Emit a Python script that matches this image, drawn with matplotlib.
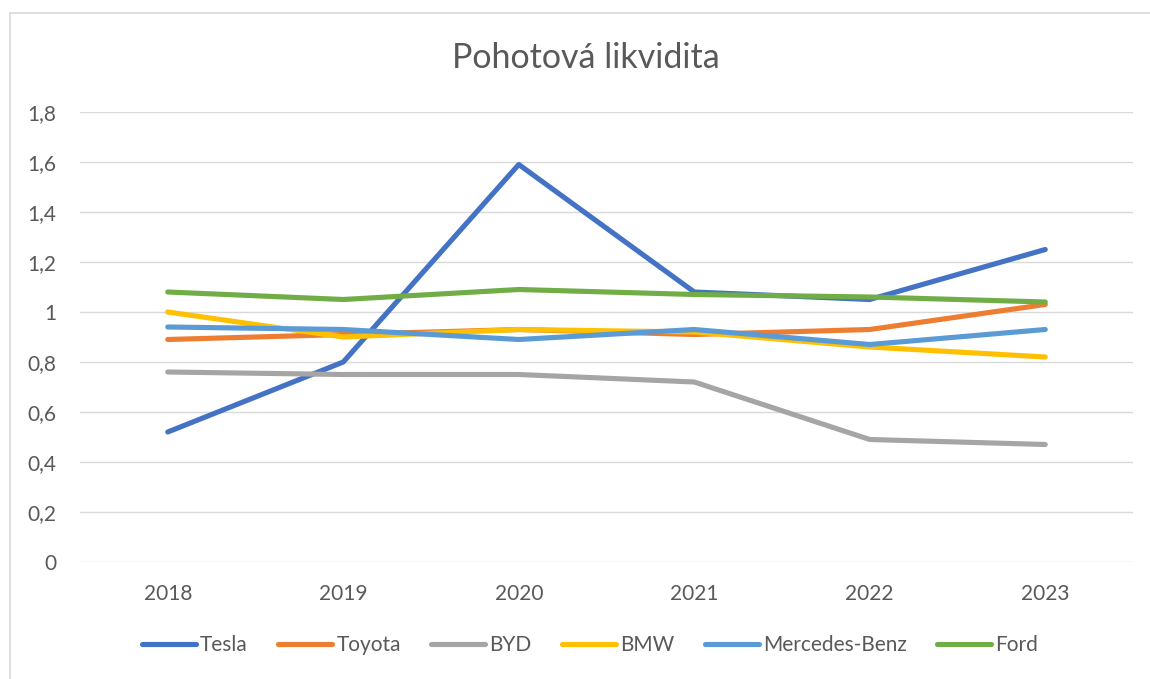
import matplotlib.pyplot as plt
from matplotlib.lines import Line2D
from matplotlib.ticker import FuncFormatter

plt.rcParams['font.family'] = ['Lato', 'DejaVu Sans']

years = ['2018', '2019', '2020', '2021', '2022', '2023']
companies = ['Tesla', 'Toyota', 'BYD', 'BMW', 'Mercedes-Benz', 'Ford']
tesla = [0.52, 0.80, 1.59, 1.08, 1.05, 1.25]
toyota = [0.89, 0.91, 0.93, 0.91, 0.93, 1.03]
byd = [0.76, 0.75, 0.75, 0.72, 0.49, 0.47]
bmw = [1.00, 0.90, 0.93, 0.92, 0.86, 0.82]
mercedes = [0.94, 0.93, 0.89, 0.93, 0.87, 0.93]
ford = [1.08, 1.05, 1.09, 1.07, 1.06, 1.04]
colors = ['#4472C4', '#ED7D31', '#A5A5A5', '#FFC000', '#5B9BD5', '#70AD47']
y_ticks = [0, 0.2, 0.4, 0.6, 0.8, 1.0, 1.2, 1.4, 1.6, 1.8]

W, H = 1150, 679
text_color = '#595959'
grid_color = '#D9D9D9'

fig = plt.figure(figsize=(W / 100, H / 100), dpi=100)
ax = fig.add_axes([80 / W, 1 - 562 / H, 1053 / W, 450 / H])

x = list(range(len(years)))
for name, vals, c in zip(companies, [tesla, toyota, byd, bmw, mercedes, ford], colors):
    ax.plot(x, vals, color=c, lw=3.7, label=name,
            solid_capstyle='round', solid_joinstyle='round', zorder=3)

ax.set_xlim(-0.5, len(years) - 0.5)
ax.set_ylim(0, 1.8)
ax.set_xticks(x)
ax.set_xticklabels(years)
ax.set_yticks(y_ticks)
ax.yaxis.set_major_formatter(FuncFormatter(lambda v, p: f'{v:g}'.replace('.', ',')))
ax.tick_params(axis='both', length=0, labelsize=15, labelcolor=text_color)
ax.tick_params(axis='y', pad=17)
ax.tick_params(axis='x', pad=16)
ax.grid(axis='y', color=grid_color, lw=1.0, zorder=0)
for s in ax.spines.values():
    s.set_visible(False)

fig.text(586 / W, 1 - 58 / H, 'Pohotová likvidita', ha='center', va='center',
         fontsize=24.5, color=text_color)

fig.legend(loc='center', bbox_to_anchor=(590 / W, 1 - 645 / H), ncol=6,
           frameon=False, fontsize=15, labelcolor=text_color,
           handlelength=2.6, handletextpad=0.2, columnspacing=1.45)

# chart border (left and top edges visible)
fig.add_artist(Line2D([10 / W, 10 / W], [0, 1 - 13 / H], color=grid_color,
                      lw=1.2, transform=fig.transFigure))
fig.add_artist(Line2D([10 / W, 1], [1 - 13 / H, 1 - 13 / H], color=grid_color,
                      lw=1.2, transform=fig.transFigure))

fig.savefig('out.png', dpi=100)
